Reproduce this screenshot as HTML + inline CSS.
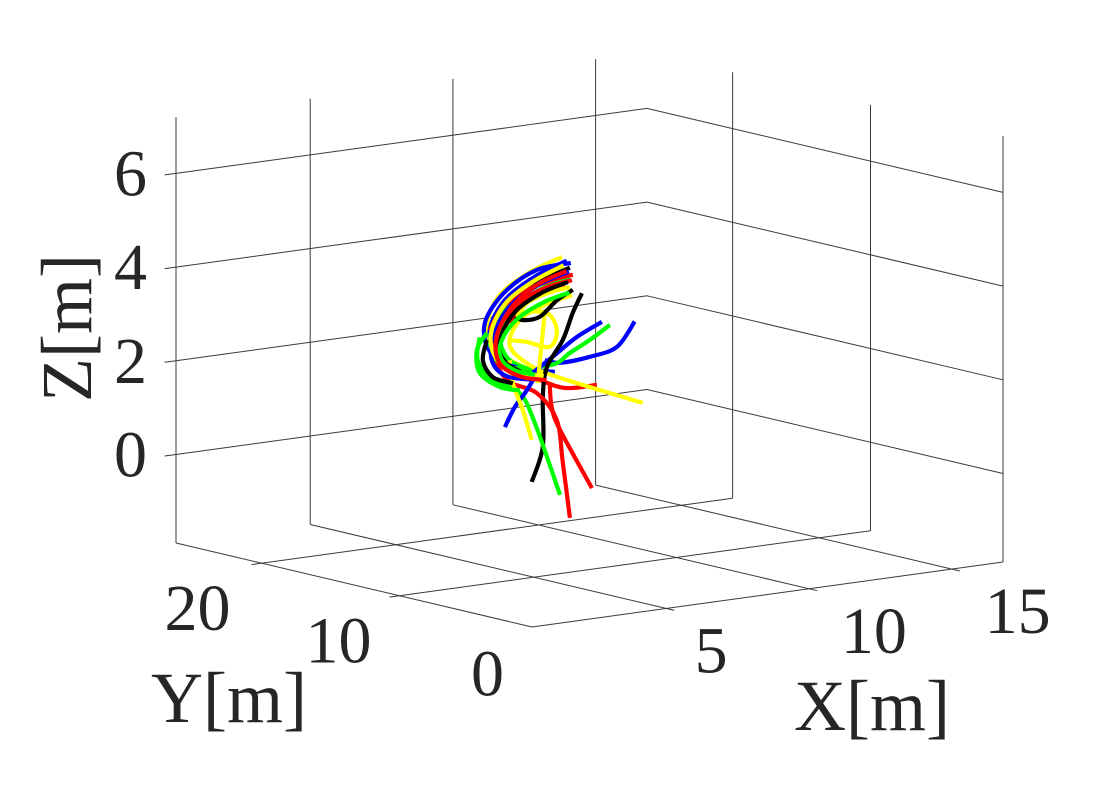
<!DOCTYPE html>
<html><head><meta charset="utf-8"><style>
html,body{margin:0;padding:0;background:#fff;}
svg{display:block;font-family:"Liberation Serif",serif;}
</style></head><body>
<svg id="chart" width="1107" height="790" viewBox="0 0 1107 790" xmlns="http://www.w3.org/2000/svg">
<rect x="0" y="0" width="1107" height="790" fill="#fff"/>
<g id="grid"></g>
<g id="traj"></g>
<g id="labels" fill="#262626"></g>
</svg>
<script>
const xTicks = [5, 10, 15];
const yTicks = [0, 10, 20];
const zTicks = [0, 2, 4, 6];
const xTickLabels = ["5", "10", "15"];
const yTickLabels = ["0", "10", "20"];
const zTickLabels = ["0", "2", "4", "6"];
const xLimits = [0.3, 16.8];
const yLimits = [0.4, 26.2];
const zLimits = [-1.89, 7.2];

const trajColors = ["#ffff00","#0000ff","#000000","#00ff00","#ff0000","#ffff00","#0000ff","#00ff00","#0000ff","#000000","#00ff00","#ff0000","#ff0000","#0000ff","#ffff00","#ffff00","#ffff00","#000000","#0000ff","#ff0000","#00ff00","#ffff00","#00ff00","#000000","#ff0000","#0000ff","#ffff00","#000000","#00ff00","#ff0000"];
const trajY = [13,13,13,13,13,13,13,13,13,13,13,13,13,13,13,13,13,13,13,13,13,13,13,13,13,13,13,13,13,13];
const trajX = [
 [7.44,6.31,5.26,4.81,5.09,5.96,6.84],
 [7.61,6.49,5.44,4.91,5.19,6.14,7.19],
 [7.72,6.66,5.61,5.09,5.44,6.31],
 [7.72,6.66,5.68,5.26,5.61,6.66],
 [7.54,6.49,5.54,5.02,5.44,6.49,7.54,8.66],
 [7.79,6.84,5.96,5.61,6.31,7.37,10.27],
 [9.99,9.36,8.42,7.37,6.84],
 [9.12,8.42,7.72,7.26,6.66],
 [8.84,7.96,7.26,6.77,6.42],
 [8.14,7.82,7.47,6.91,6.77,6.77,6.38],
 [4.56,4.49,5.02,5.96,6.49,7.37],
 [4.91,5.51,6.56,7.26,7.47,7.72],
 [7.01,7.08,7.37,8.49],
 [6.66,6.21,5.79,5.44],
 [5.61,5.72,6.07,6.38],
 [6.84,6.73,6.59],
 [5.96,6.91,7.26,7.01,6.21,5.61],
 [7.82,7.26,6.66,6.07,5.72],
 [7.75,6.56,5.51,4.81,4.74,5.16,5.86],
 [7.79,6.91,6.07,5.61],
 [7.61,6.77,5.86,5.16,4.91,5.26,6.21],
 [7.72,6.91,6.21,5.86],
 [4.81,4.46,4.56,5.26,5.96],
 [4.81,4.67,5.02,5.72],
 [7.82,7.12,6.21,5.37,4.91],
 [7.68,6.60,5.60,5.02,5.00,5.50,6.40],
 [7.50,6.45,5.45,4.95,5.15,5.90,6.80],
 [7.65,6.70,5.80,5.30,5.35,6.00],
 [7.70,6.80,5.90,5.35,5.30,5.80,6.50],
 [7.60,6.60,5.70,5.15,5.25,6.00,6.90]
];
const trajZ = [
 [4.53,4.30,3.90,3.30,2.75,2.35,2.06],
 [4.44,4.19,3.78,3.18,2.63,2.27,2.10],
 [4.28,4.07,3.66,3.13,2.55,2.17],
 [4.06,3.90,3.55,3.05,2.48,2.13],
 [3.93,3.80,3.45,2.96,2.40,2.03,1.73,1.70],
 [3.69,3.56,3.31,2.80,2.32,1.96,1.18],
 [2.94,2.45,2.32,2.28,2.38],
 [2.94,2.68,2.46,2.28,2.25],
 [3.03,2.78,2.49,2.29,2.15],
 [3.70,3.31,2.76,2.22,1.60,0.54,-0.18],
 [3.06,2.58,2.11,1.75,1.07,-0.54],
 [2.76,2.07,1.70,1.06,0.14,-1.06],
 [1.88,1.36,0.85,-0.49],
 [2.22,1.79,1.47,1.07],
 [2.48,1.98,1.38,0.72],
 [3.39,2.76,1.91],
 [3.48,3.38,2.98,2.65,2.82,2.91],
 [3.80,3.62,3.32,3.30,3.43],
 [4.38,4.33,3.99,3.47,2.99,2.52,2.31],
 [4.01,3.93,3.72,3.27],
 [4.10,4.04,3.81,3.38,2.91,2.45,2.22],
 [3.87,3.80,3.65,3.38],
 [3.13,2.80,2.30,1.94,1.81],
 [2.98,2.56,2.17,1.98],
 [4.12,4.07,3.93,3.64,3.18],
 [4.20,4.00,3.62,3.05,2.50,2.15,2.00],
 [4.35,4.10,3.70,3.10,2.55,2.20,2.05],
 [3.98,3.82,3.50,3.00,2.52,2.20],
 [3.75,3.62,3.35,2.95,2.55,2.25,2.10],
 [4.22,4.02,3.62,3.02,2.45,2.10,1.95]
];

const NS = "http://www.w3.org/2000/svg";
function P(x, y, z) {
  const u = (x - xLimits[0]) / (xLimits[1] - xLimits[0]);
  const v = (y - yLimits[0]) / (yLimits[1] - yLimits[0]);
  return [532 + 471 * u - 356 * v, 627 - 65 * u - 84 * v - (z - zLimits[0]) * 46.85];
}
function line(parent, a, b, name) {
  const l = document.createElementNS(NS, "line");
  l.setAttribute("x1", a[0].toFixed(1)); l.setAttribute("y1", a[1].toFixed(1));
  l.setAttribute("x2", b[0].toFixed(1)); l.setAttribute("y2", b[1].toFixed(1));
  l.setAttribute("stroke", "#3a3a3a"); l.setAttribute("stroke-width", "1");
  
  
  parent.appendChild(l);
}
function text(parent, str, x, y, size, name, anchor, rot) {
  const t = document.createElementNS(NS, "text");
  t.textContent = str;
  t.setAttribute("font-size", size);
  t.setAttribute("text-anchor", anchor || "middle");
  if (rot) t.setAttribute("transform", "translate(" + x + "," + y + ") rotate(-90)");
  else { t.setAttribute("x", x); t.setAttribute("y", y); }
  
  
  parent.appendChild(t);
}
function smoothPath(pts) {
  let d = "M" + pts[0][0].toFixed(1) + "," + pts[0][1].toFixed(1);
  for (let i = 0; i < pts.length - 1; i++) {
    const p0 = pts[Math.max(0, i - 1)], p1 = pts[i], p2 = pts[i + 1], p3 = pts[Math.min(pts.length - 1, i + 2)];
    const c1 = [p1[0] + (p2[0] - p0[0]) / 6, p1[1] + (p2[1] - p0[1]) / 6];
    const c2 = [p2[0] - (p3[0] - p1[0]) / 6, p2[1] - (p3[1] - p1[1]) / 6];
    d += " C" + c1[0].toFixed(1) + "," + c1[1].toFixed(1) + " " + c2[0].toFixed(1) + "," + c2[1].toFixed(1) + " " + p2[0].toFixed(1) + "," + p2[1].toFixed(1);
  }
  return d;
}
const g = document.getElementById("grid");
const [x0, x1] = xLimits, [y0, y1] = yLimits, [z0, z1] = zLimits;
line(g, P(x0, y1, z0), P(x0, y1, z1), "box-edge-left");
line(g, P(x1, y0, z0), P(x1, y0, z1), "box-edge-right");
line(g, P(x0, y1, z0), P(x0, y0, z0), "floor-edge-y");
line(g, P(x0, y0, z0), P(x1, y0, z0), "floor-edge-x");
zTicks.forEach(z => {
  line(g, P(x0, y1, z), P(x1, y1, z), "z-grid-back-left");
  line(g, P(x1, y1, z), P(x1, y0, z), "z-grid-back-right");
  line(g, P(x0 - 0.4, y1, z), P(x0, y1, z), "z-tick");
});
xTicks.forEach(x => {
  line(g, P(x, y1, z0), P(x, y1, z1), "x-grid-wall");
  line(g, P(x, y0 - 0.6, z0), P(x, y1, z0), "x-grid-floor");
});
yTicks.forEach(y => {
  if (y > y0) {
    line(g, P(x1, y, z0), P(x1, y, z1), "y-grid-wall");
    line(g, P(x0 - 0.35, y, z0), P(x1, y, z0), "y-grid-floor");
  }
});
const tg = document.getElementById("traj");
trajX.forEach((xs, i) => {
  const pts = xs.map((x, j) => P(x, trajY[i], trajZ[i][j]));
  const p = document.createElementNS(NS, "path");
  p.setAttribute("d", smoothPath(pts));
  p.setAttribute("fill", "none");
  p.setAttribute("stroke", trajColors[i]);
  p.setAttribute("stroke-width", "4.2");
  p.setAttribute("stroke-linejoin", "round");
  p.setAttribute("stroke-linecap", "butt");
  
  
  tg.appendChild(p);
});
const lg = document.getElementById("labels");
zTicks.forEach((z, i) => {
  const q = P(x0, y1, z);
  text(lg, zTickLabels[i], 147, q[1] + 22, 66, "z-tick-label", "end");
});
const yLabelNudge = [0, -11, -14];
yTicks.forEach((y, i) => {
  const q = P(x0, y, z0);
  text(lg, yTickLabels[i], q[0] - 50 + yLabelNudge[i], q[1] + 67, 66, "y-tick-label");
});
const xLabelNudge = [0, 20, 21];
xTicks.forEach((x, i) => {
  const q = P(x, y0, z0);
  text(lg, xTickLabels[i], q[0] + 45 + xLabelNudge[i], q[1] + 64, 66, "x-tick-label");
});
text(lg, "Y[m]", 229, 722, 72, "y-axis-title");
text(lg, "X[m]", 872, 730, 72, "x-axis-title");
text(lg, "Z[m]", 91, 328, 72, "z-axis-title", "middle", true);
</script>
</body></html>
